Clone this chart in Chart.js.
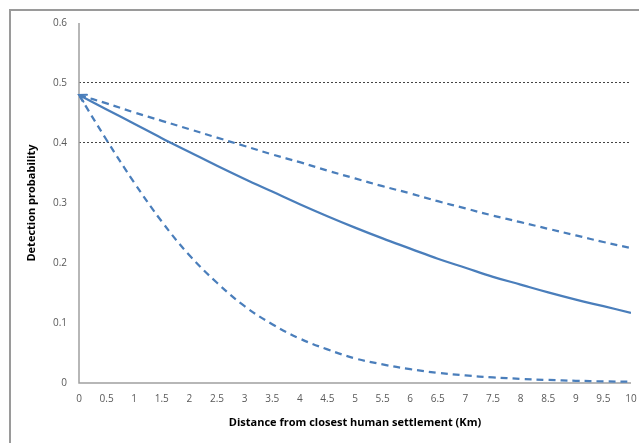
<!DOCTYPE html>
<html>
<head>
<meta charset="utf-8">
<script src="https://cdn.jsdelivr.net/npm/chart.js@4.4.1/dist/chart.umd.min.js"></script>
<style>
  html, body { margin: 0; padding: 0; background: #fff; }
  #wrap { position: relative; width: 639px; height: 443px; }
  #frame { position: absolute; left: 9px; top: 9px; right: -5px; bottom: -5px; border-left: 2px solid #9a9a9a; border-top: 2px solid #9a9a9a; }
  canvas { position: absolute; left: 0; top: 0; }
</style>
</head>
<body>
<div id="wrap">
  <div id="frame"></div>
  <canvas id="c" width="639" height="443"></canvas>
</div>
<script>
const distances = [0,0.5,1,1.5,2,2.5,3,3.5,4,4.5,5,5.5,6,6.5,7,7.5,8,8.5,9,9.5,10];
const meanProb = [0.480,0.456,0.432,0.408,0.385,0.362,0.340,0.319,0.298,0.278,0.259,0.241,0.224,0.207,0.192,0.177,0.164,0.151,0.139,0.128,0.117];
const upperProb = [0.480,0.466,0.451,0.437,0.423,0.409,0.395,0.381,0.368,0.354,0.341,0.328,0.316,0.303,0.291,0.279,0.268,0.257,0.246,0.235,0.225];
const lowerProb = [0.480,0.405,0.334,0.269,0.213,0.167,0.128,0.098,0.074,0.056,0.041,0.031,0.023,0.017,0.0126,0.0093,0.0069,0.0051,0.0037,0.0027,0.0020];
const yTicks = [0,0.1,0.2,0.3,0.4,0.5,0.6];
const gridValues = [0.4,0.5];
const xTitle = 'Distance from closest human settlement (Km)';
const yTitle = 'Detection probability';

const lineColor = '#4a7ebb';
const toPts = arr => arr.map((v,i) => ({x: distances[i], y: v}));

const arrowPlugin = {
  id: 'arrowStart',
  afterDatasetsDraw(chart) {
    const meta = chart.getDatasetMeta(0);
    if (!meta.data.length) return;
    const p0 = meta.data[0], p1 = meta.data[1];
    const ang = Math.atan2(p0.y - p1.y, p0.x - p1.x);
    const ctx = chart.ctx;
    ctx.save();
    ctx.strokeStyle = lineColor;
    ctx.lineWidth = 2;
    ctx.lineCap = 'round';
    const L = 8, spread = 0.5;
    ctx.beginPath();
    ctx.moveTo(p0.x - L*Math.cos(ang - spread), p0.y - L*Math.sin(ang - spread));
    ctx.lineTo(p0.x, p0.y);
    ctx.lineTo(p0.x - L*Math.cos(ang + spread), p0.y - L*Math.sin(ang + spread));
    ctx.stroke();
    ctx.restore();
  }
};

const axisLinePlugin = {
  id: 'axisLine',
  beforeDatasetsDraw(chart) {
    const {ctx, chartArea: a} = chart;
    ctx.save();
    ctx.strokeStyle = '#a0a0a0';
    ctx.lineWidth = 1.5;
    ctx.setLineDash([]);
    ctx.beginPath();
    ctx.moveTo(a.left, a.top);
    ctx.lineTo(a.left, a.bottom);
    ctx.lineTo(a.right, a.bottom);
    ctx.stroke();
    ctx.restore();
  }
};

new Chart(document.getElementById('c'), {
  type: 'line',
  data: {
    datasets: [
      { data: toPts(meanProb), borderColor: lineColor, borderWidth: 2.25, pointRadius: 0, tension: 0.4, fill: false },
      { data: toPts(upperProb), borderColor: lineColor, borderWidth: 2.25, borderDash: [7,5], pointRadius: 0, tension: 0.4, fill: false },
      { data: toPts(lowerProb), borderColor: lineColor, borderWidth: 2.25, borderDash: [7,5], pointRadius: 0, tension: 0.4, fill: false }
    ]
  },
  options: {
    responsive: false,
    animation: false,
    events: [],
    layout: { padding: { left: 0, right: 0, top: 23, bottom: 0 } },
    plugins: { legend: { display: false }, tooltip: { enabled: false } },
    scales: {
      x: {
        type: 'linear', min: 0, max: 10,
        afterBuildTicks: s => { s.ticks = distances.map(v => ({value: v})); },
        afterFit: s => { s.height = 60; s.paddingRight = 8; },
        grid: { display: false, drawTicks: false },
        border: { display: false },
        ticks: { color: '#595959', font: { family: 'Open Sans', size: 10 }, padding: 10, maxRotation: 0, autoSkip: false,
                 callback: v => String(v) },
        title: { display: true, text: xTitle, color: '#000', font: { family: 'Open Sans', size: 11, weight: 'bold' }, padding: { top: 4, bottom: 14 } }
      },
      y: {
        min: 0, max: 0.6,
        afterBuildTicks: s => { s.ticks = yTicks.map(v => ({value: v})); },
        afterFit: s => { s.width = 79; },
        grid: { drawTicks: false, lineWidth: 1,
                color: ctx => gridValues.some(g => Math.abs(ctx.tick.value - g) < 1e-9) ? '#444' : 'rgba(0,0,0,0)' },
        border: { display: false, dash: [2,2] },
        ticks: { color: '#595959', font: { family: 'Open Sans', size: 10 }, padding: 12, callback: v => String(v) },
        title: { display: true, text: yTitle, color: '#000', font: { family: 'Open Sans', size: 11, weight: 'bold' }, padding: { top: 25, bottom: 4 } }
      }
    }
  },
  plugins: [axisLinePlugin, arrowPlugin]
});
</script>
</body>
</html>
